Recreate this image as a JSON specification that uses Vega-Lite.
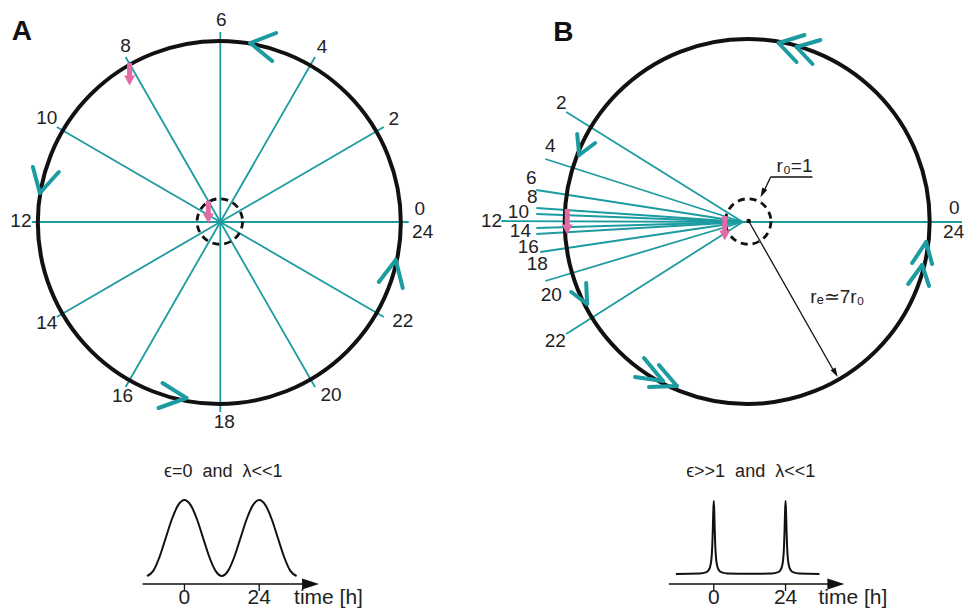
{
  "$schema": "https://vega.github.io/schema/vega-lite/v6.json",
  "width": 965,
  "height": 611,
  "autosize": {"type": "fit", "contains": "padding"},
  "padding": 0,
  "background": "white",
  "config": {"view": {"stroke": null}, "text": {"font": "Liberation Sans"}},
  "datasets": {
    "spokesA": [
      {"x": 221, "y": 222, "x2": 410, "y2": 222},
      {"x": 221, "y": 222, "x2": 385, "y2": 127},
      {"x": 221, "y": 222, "x2": 316, "y2": 57},
      {"x": 221, "y": 222, "x2": 221, "y2": 32},
      {"x": 221, "y": 222, "x2": 126, "y2": 57},
      {"x": 221, "y": 222, "x2": 57, "y2": 127},
      {"x": 221, "y": 222, "x2": 32, "y2": 222},
      {"x": 221, "y": 222, "x2": 57, "y2": 317},
      {"x": 221, "y": 222, "x2": 126, "y2": 387},
      {"x": 221, "y": 222, "x2": 221, "y2": 412},
      {"x": 221, "y": 222, "x2": 316, "y2": 387},
      {"x": 221, "y": 222, "x2": 385, "y2": 317}
    ],
    "spokesB": [
      {"x": 745, "y": 222, "x2": 965, "y2": 222},
      {"x": 745, "y": 222, "x2": 568, "y2": 112},
      {"x": 745, "y": 222, "x2": 547, "y2": 159},
      {"x": 745, "y": 222, "x2": 538, "y2": 190},
      {"x": 745, "y": 222, "x2": 538, "y2": 208},
      {"x": 745, "y": 222, "x2": 538, "y2": 214},
      {"x": 745, "y": 222, "x2": 503, "y2": 221},
      {"x": 745, "y": 222, "x2": 538, "y2": 228},
      {"x": 745, "y": 222, "x2": 538, "y2": 234},
      {"x": 745, "y": 222, "x2": 542, "y2": 252},
      {"x": 745, "y": 222, "x2": 547, "y2": 281},
      {"x": 745, "y": 222, "x2": 568, "y2": 334}
    ],
    "chevrons": [
      {"x": 251, "y": 43, "x2": 277, "y2": 33},
      {"x": 251, "y": 43, "x2": 273, "y2": 61},
      {"x": 40, "y": 193, "x2": 33, "y2": 167},
      {"x": 40, "y": 193, "x2": 59, "y2": 172},
      {"x": 187, "y": 398, "x2": 163, "y2": 383},
      {"x": 187, "y": 398, "x2": 159, "y2": 408},
      {"x": 397, "y": 260, "x2": 380, "y2": 282},
      {"x": 397, "y": 260, "x2": 404, "y2": 288},
      {"x": 781, "y": 43, "x2": 807, "y2": 35},
      {"x": 781, "y": 43, "x2": 799, "y2": 62},
      {"x": 799, "y": 47, "x2": 823, "y2": 40},
      {"x": 799, "y": 47, "x2": 815, "y2": 64},
      {"x": 581, "y": 155, "x2": 579, "y2": 134},
      {"x": 581, "y": 155, "x2": 597, "y2": 143},
      {"x": 589, "y": 304, "x2": 573, "y2": 292},
      {"x": 589, "y": 304, "x2": 588, "y2": 283},
      {"x": 665, "y": 381, "x2": 637, "y2": 377},
      {"x": 665, "y": 381, "x2": 646, "y2": 358},
      {"x": 679, "y": 386, "x2": 651, "y2": 387},
      {"x": 679, "y": 386, "x2": 661, "y2": 365},
      {"x": 929, "y": 242, "x2": 915, "y2": 263},
      {"x": 929, "y": 242, "x2": 935, "y2": 264},
      {"x": 925, "y": 265, "x2": 911, "y2": 284},
      {"x": 925, "y": 265, "x2": 932, "y2": 286}
    ],
    "pinkBars": [
      {"x": 130, "y": 63, "x2": 130, "y2": 76},
      {"x": 209, "y": 201, "x2": 209, "y2": 214},
      {"x": 569, "y": 209, "x2": 569, "y2": 226},
      {"x": 727, "y": 216, "x2": 727, "y2": 231}
    ],
    "pinkHeads": [
      {"x": 130, "y": 80},
      {"x": 209, "y": 218},
      {"x": 569, "y": 229},
      {"x": 727, "y": 235}
    ],
    "thinLines": [
      {"x": 815, "y": 177, "x2": 773, "y2": 177},
      {"x": 773, "y": 177, "x2": 766, "y2": 192},
      {"x": 751, "y": 221, "x2": 837, "y2": 372},
      {"x": 143, "y": 584, "x2": 312, "y2": 584},
      {"x": 671, "y": 584, "x2": 840, "y2": 584},
      {"x": 185, "y": 584, "x2": 185, "y2": 591},
      {"x": 260, "y": 584, "x2": 260, "y2": 591},
      {"x": 716, "y": 584, "x2": 716, "y2": 591},
      {"x": 788, "y": 584, "x2": 788, "y2": 591}
    ],
    "numLabels": [
      {"x": 421, "y": 209, "label": "0"},
      {"x": 424, "y": 232, "label": "24"},
      {"x": 395, "y": 119, "label": "2"},
      {"x": 323, "y": 47, "label": "4"},
      {"x": 222, "y": 20, "label": "6"},
      {"x": 126, "y": 46, "label": "8"},
      {"x": 47, "y": 118, "label": "10"},
      {"x": 21, "y": 221, "label": "12"},
      {"x": 47, "y": 323, "label": "14"},
      {"x": 123, "y": 396, "label": "16"},
      {"x": 225, "y": 422, "label": "18"},
      {"x": 332, "y": 395, "label": "20"},
      {"x": 404, "y": 321, "label": "22"},
      {"x": 563, "y": 103, "label": "2"},
      {"x": 552, "y": 146, "label": "4"},
      {"x": 533, "y": 178, "label": "6"},
      {"x": 534, "y": 197, "label": "8"},
      {"x": 520, "y": 212, "label": "10"},
      {"x": 493, "y": 221, "label": "12"},
      {"x": 522, "y": 231, "label": "14"},
      {"x": 530, "y": 247, "label": "16"},
      {"x": 539, "y": 264, "label": "18"},
      {"x": 553, "y": 295, "label": "20"},
      {"x": 557, "y": 341, "label": "22"}
    ],
    "edgeLabels": [
      {"x": 952, "y": 208, "label": "0"},
      {"x": 946, "y": 232, "label": "24"}
    ],
    "curves": [
      {"x": 147.5, "y": 576, "series": "A"},
      {"x": 153.75, "y": 570.9, "series": "A"},
      {"x": 160, "y": 557, "series": "A"},
      {"x": 166.25, "y": 538, "series": "A"},
      {"x": 172.5, "y": 519, "series": "A"},
      {"x": 178.75, "y": 505.1, "series": "A"},
      {"x": 185, "y": 500, "series": "A"},
      {"x": 191.25, "y": 505.1, "series": "A"},
      {"x": 197.5, "y": 519, "series": "A"},
      {"x": 203.75, "y": 538, "series": "A"},
      {"x": 210, "y": 557, "series": "A"},
      {"x": 216.25, "y": 570.9, "series": "A"},
      {"x": 222.5, "y": 576, "series": "A"},
      {"x": 228.75, "y": 570.9, "series": "A"},
      {"x": 235, "y": 557, "series": "A"},
      {"x": 241.25, "y": 538, "series": "A"},
      {"x": 247.5, "y": 519, "series": "A"},
      {"x": 253.75, "y": 505.1, "series": "A"},
      {"x": 260, "y": 500, "series": "A"},
      {"x": 266.25, "y": 505.1, "series": "A"},
      {"x": 272.5, "y": 519, "series": "A"},
      {"x": 278.75, "y": 538, "series": "A"},
      {"x": 285, "y": 557, "series": "A"},
      {"x": 291.25, "y": 570.9, "series": "A"},
      {"x": 297.5, "y": 576, "series": "A"},
      {"x": 678, "y": 573.9, "series": "B"},
      {"x": 702, "y": 573.5, "series": "B"},
      {"x": 708, "y": 572.4, "series": "B"},
      {"x": 711, "y": 570, "series": "B"},
      {"x": 713, "y": 563.9, "series": "B"},
      {"x": 714, "y": 554.7, "series": "B"},
      {"x": 714.5, "y": 545.5, "series": "B"},
      {"x": 715, "y": 530.9, "series": "B"},
      {"x": 715.5, "y": 511.8, "series": "B"},
      {"x": 716, "y": 501, "series": "B"},
      {"x": 716.5, "y": 511.8, "series": "B"},
      {"x": 717, "y": 530.9, "series": "B"},
      {"x": 717.5, "y": 545.5, "series": "B"},
      {"x": 718, "y": 554.7, "series": "B"},
      {"x": 719, "y": 563.9, "series": "B"},
      {"x": 721, "y": 570, "series": "B"},
      {"x": 724, "y": 572.4, "series": "B"},
      {"x": 730, "y": 573.5, "series": "B"},
      {"x": 752, "y": 573.8, "series": "B"},
      {"x": 774, "y": 573.5, "series": "B"},
      {"x": 780, "y": 572.4, "series": "B"},
      {"x": 783, "y": 570, "series": "B"},
      {"x": 785, "y": 563.9, "series": "B"},
      {"x": 786, "y": 554.7, "series": "B"},
      {"x": 786.5, "y": 545.5, "series": "B"},
      {"x": 787, "y": 530.9, "series": "B"},
      {"x": 787.5, "y": 511.8, "series": "B"},
      {"x": 788, "y": 501, "series": "B"},
      {"x": 788.5, "y": 511.8, "series": "B"},
      {"x": 789, "y": 530.9, "series": "B"},
      {"x": 789.5, "y": 545.5, "series": "B"},
      {"x": 790, "y": 554.7, "series": "B"},
      {"x": 791, "y": 563.9, "series": "B"},
      {"x": 793, "y": 570, "series": "B"},
      {"x": 796, "y": 572.4, "series": "B"},
      {"x": 802, "y": 573.5, "series": "B"},
      {"x": 822, "y": 573.9, "series": "B"}
    ]
  },
  "encoding": {
    "x": {"field": "x", "type": "quantitative", "axis": null, "scale": {"domain": [0, 965], "nice": false, "zero": false}},
    "y": {"field": "y", "type": "quantitative", "axis": null, "scale": {"domain": [0, 611], "reverse": true, "nice": false, "zero": false}}
  },
  "layer": [
    {
      "data": {"name": "spokesA"},
      "mark": {"type": "rule", "color": "#1c9ba0", "strokeWidth": 1.8},
      "encoding": {"x2": {"field": "x2"}, "y2": {"field": "y2"}}
    },
    {
      "data": {"name": "spokesB"},
      "mark": {"type": "rule", "color": "#1c9ba0", "strokeWidth": 1.8},
      "encoding": {"x2": {"field": "x2"}, "y2": {"field": "y2"}}
    },
    {
      "data": {"values": [{"x": 220, "y": 222.5}]},
      "mark": {"type": "point", "shape": "circle", "filled": false, "size": 131769, "color": "#111111", "strokeWidth": 4, "opacity": 1}
    },
    {
      "data": {"values": [{"x": 749.5, "y": 221.5}]},
      "mark": {"type": "point", "shape": "circle", "filled": false, "size": 133225, "color": "#111111", "strokeWidth": 4, "opacity": 1}
    },
    {
      "data": {"values": [{"x": 220.5, "y": 221.5}, {"x": 750.5, "y": 221.5}]},
      "mark": {"type": "point", "shape": "circle", "filled": false, "size": 2070, "color": "#111111", "strokeWidth": 2.8, "strokeDash": [7, 5], "opacity": 1}
    },
    {
      "data": {"values": [{"x": 751, "y": 221}]},
      "mark": {"type": "point", "shape": "circle", "filled": true, "size": 22, "color": "#111111", "opacity": 1}
    },
    {
      "data": {"name": "chevrons"},
      "mark": {"type": "rule", "color": "#1c9ba0", "strokeWidth": 4, "strokeCap": "round"},
      "encoding": {"x2": {"field": "x2"}, "y2": {"field": "y2"}}
    },
    {
      "data": {"name": "pinkBars"},
      "mark": {"type": "rule", "color": "#e46aa5", "strokeWidth": 5},
      "encoding": {"x2": {"field": "x2"}, "y2": {"field": "y2"}}
    },
    {
      "data": {"name": "pinkHeads"},
      "mark": {"type": "point", "shape": "M-1,-0.8L1,-0.8L0,1Z", "filled": true, "size": 120, "color": "#e46aa5", "opacity": 1}
    },
    {
      "data": {"name": "thinLines"},
      "mark": {"type": "rule", "color": "#111111", "strokeWidth": 1.3},
      "encoding": {"x2": {"field": "x2"}, "y2": {"field": "y2"}}
    },
    {
      "data": {"values": [{"x": 765, "y": 193}]},
      "mark": {"type": "point", "shape": "M-0.6,-1L0.6,-1L0,1Z", "filled": true, "size": 90, "angle": 26.6, "color": "#111111", "opacity": 1}
    },
    {
      "data": {"values": [{"x": 838, "y": 373}]},
      "mark": {"type": "point", "shape": "M-0.6,-1L0.6,-1L0,1Z", "filled": true, "size": 90, "angle": -29.6, "color": "#111111", "opacity": 1}
    },
    {
      "data": {"values": [{"x": 311.5, "y": 584}, {"x": 838.5, "y": 584}]},
      "mark": {"type": "point", "shape": "M-1,-0.65L1,0L-1,0.65Z", "filled": true, "size": 289, "color": "#111111", "opacity": 1}
    },
    {
      "data": {"name": "curves"},
      "mark": {"type": "line", "color": "#111111", "strokeWidth": 2, "interpolate": "monotone"},
      "encoding": {"detail": {"field": "series"}}
    },
    {
      "data": {"name": "numLabels"},
      "mark": {"type": "text", "fontSize": 19, "align": "center", "baseline": "middle", "color": "#222222"},
      "encoding": {"text": {"field": "label"}}
    },
    {
      "data": {"name": "edgeLabels"},
      "mark": {"type": "text", "fontSize": 19, "align": "left", "baseline": "middle", "color": "#222222"},
      "encoding": {"text": {"field": "label"}}
    },
    {
      "data": {"values": [{"x": 22, "y": 32, "label": "A"}, {"x": 565, "y": 33, "label": "B"}]},
      "mark": {"type": "text", "fontSize": 28, "fontWeight": "bold", "align": "center", "baseline": "middle", "color": "#111111"},
      "encoding": {"text": {"field": "label"}}
    },
    {
      "data": {"values": [{"x": 224, "y": 472, "label": "ϵ=0\u00a0\u00a0and\u00a0\u00a0λ<<1"}, {"x": 753, "y": 472, "label": "ϵ>>1\u00a0\u00a0and\u00a0\u00a0λ<<1"}]},
      "mark": {"type": "text", "fontSize": 18, "align": "center", "baseline": "middle", "color": "#222222"},
      "encoding": {"text": {"field": "label"}}
    },
    {
      "data": {"values": [
        {"x": 185, "y": 598, "label": "0"},
        {"x": 260, "y": 598, "label": "24"},
        {"x": 716, "y": 598, "label": "0"},
        {"x": 788, "y": 598, "label": "24"}
      ]},
      "mark": {"type": "text", "fontSize": 21, "align": "center", "baseline": "middle", "color": "#222222"},
      "encoding": {"text": {"field": "label"}}
    },
    {
      "data": {"values": [{"x": 295, "y": 598, "label": "time [h]"}, {"x": 821, "y": 598, "label": "time [h]"}]},
      "mark": {"type": "text", "fontSize": 21, "align": "left", "baseline": "middle", "color": "#222222"},
      "encoding": {"text": {"field": "label"}}
    },
    {
      "data": {"values": [{"x": 797, "y": 166, "label": "r₀=1"}]},
      "mark": {"type": "text", "fontSize": 19, "align": "center", "baseline": "middle", "color": "#222222"},
      "encoding": {"text": {"field": "label"}}
    },
    {
      "data": {"values": [{"x": 840, "y": 297, "label": "rₑ≃7r₀"}]},
      "mark": {"type": "text", "fontSize": 19, "align": "center", "baseline": "middle", "color": "#222222"},
      "encoding": {"text": {"field": "label"}}
    }
  ]
}
